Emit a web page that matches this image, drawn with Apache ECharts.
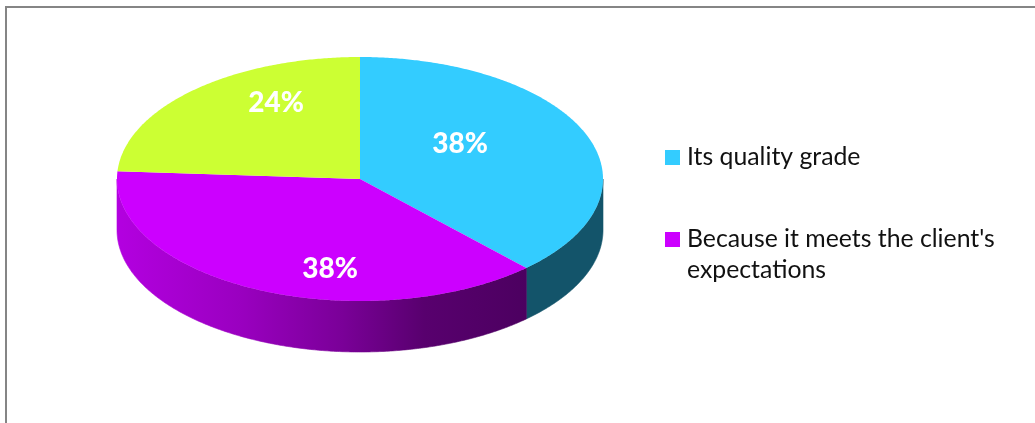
<!DOCTYPE html>
<html><head><meta charset="utf-8">
<style>html,body{margin:0;padding:0;background:#fff}#c{width:1035px;height:423px}</style>
<script src="https://cdn.jsdelivr.net/npm/echarts@6/dist/echarts.min.js"></script>
</head><body><div id="c"></div>
<script>
const categories = ["Its quality grade", "Because it meets the client's\nexpectations", "Other"];
const values = [38, 38, 24];
const topColors = ["#33CCFF", "#CC00FF", "#CCFF33"];
const legendNames = categories.slice(0, 2);

// layout of the tilted disc
const CX = 360, CY = 179, RX = 243, RY = 122, DEPTH = 51;
const labelPos = [[460, 144], [330, 269], [276, 103]];
const sideFill = [
  "#13546A",
  {type:'linear', x:117, y:0, x2:527, y2:0, global:true, colorStops:[
    {offset:0, color:'#B300E0'}, {offset:0.3, color:'#9A00C0'}, {offset:0.55, color:'#7A0098'},
    {offset:0.75, color:'#58006E'}, {offset:1, color:'#4C0060'}]},
  "#000000"
];
const total = values.reduce((a, b) => a + b, 0);
const pt = (deg, dy) => [CX + RX * Math.sin(deg * Math.PI / 180), CY - RY * Math.cos(deg * Math.PI / 180) + dy];

function renderSlice(idx) {
  return function (params, api) {
    const v = api.value(0);
    const before = values.slice(0, idx).reduce((a, b) => a + b, 0);
    const a0 = before / total * 360, a1 = (before + v) / total * 360;
    const children = [];
    const s0 = Math.max(a0, 90), s1 = Math.min(a1, 270);
    if (s1 > s0) {
      const upper = [], lower = [];
      for (let a = s0; a < s1; a += 0.5) { upper.push(pt(a, 0)); lower.push(pt(a, DEPTH)); }
      upper.push(pt(s1, 0)); lower.push(pt(s1, DEPTH));
      children.push({type:'polygon', shape:{points: upper.concat(lower.reverse())},
        style:{fill: sideFill[idx], stroke: sideFill[idx], lineWidth:0.6}});
    }
    const face = [[CX, CY]];
    for (let a = a0; a < a1; a += 0.5) face.push(pt(a, 0));
    face.push(pt(a1, 0));
    children.push({type:'polygon', z2:5, shape:{points: face}, style:{fill: topColors[idx]}});
    children.push({type:'text', z2:10, x: labelPos[idx][0], y: labelPos[idx][1],
      style:{text: v + '%', fill:'#fff', font:'900 28px Lato', align:'center', verticalAlign:'middle'}});
    return {type:'group', children};
  };
}

const chart = echarts.init(document.getElementById('c'), null, {renderer:'canvas'});
chart.setOption({
  animation:false,
  backgroundColor:'#fff',
  graphic:[
    {type:'rect', shape:{x:6, y:6, width:1029, height:2}, style:{fill:'#858585'}, silent:true},
    {type:'rect', shape:{x:5, y:6, width:2, height:417}, style:{fill:'#858585'}, silent:true}
  ],
  legend:{
    orient:'vertical', left:665, top:142, padding:0, itemWidth:15, itemHeight:15, itemGap:20, selectedMode:false,
    textStyle:{fontFamily:'Lato', fontSize:24.8, color:'#111', lineHeight:31, padding:[0,0,0,2]},
    formatter: name => name.indexOf('\n') >= 0 ? '\n' + name : name,
    data: legendNames.map((n, i) => ({name:n, icon:'rect', itemStyle:{color:topColors[i]}}))
  },
  series: categories.map((n, i) => ({
    type:'custom', name:n, silent:true, coordinateSystem:'none',
    renderItem: renderSlice(i), data:[[values[i]]], itemStyle:{color:topColors[i]}
  }))
});
</script></body></html>
